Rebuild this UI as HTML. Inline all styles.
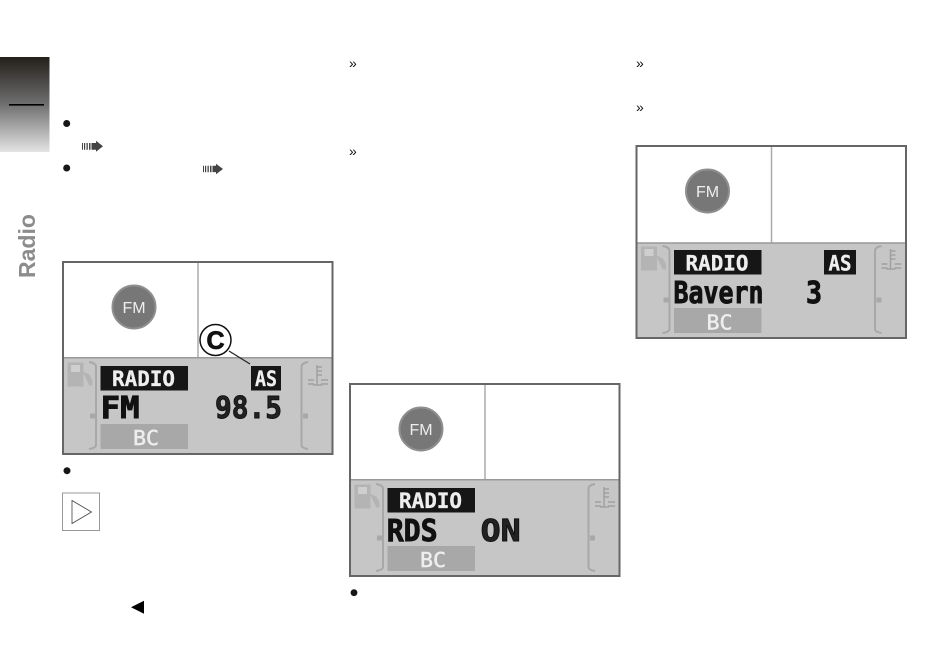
<!DOCTYPE html>
<html><head><meta charset="utf-8"><style>
html,body{margin:0;padding:0;background:#fff}
svg{display:block;filter:blur(.35px)}
text{font-family:"Liberation Sans",sans-serif}
.m{font-family:"DejaVu Sans Mono",monospace;font-weight:bold}
.k{stroke:#111;stroke-width:.9}
.w{stroke:#eee;stroke-width:.3}
.b{font-family:"DejaVu Sans Mono",monospace;font-weight:normal;stroke:#eee;stroke-width:.5}
</style></head><body>
<svg width="950" height="669" viewBox="0 0 950 669" xmlns="http://www.w3.org/2000/svg">
<defs>
<linearGradient id="g" x1="0" y1="0" x2="0" y2="1"><stop offset="0" stop-color="#231f1b"/><stop offset=".5" stop-color="#707070"/><stop offset="1" stop-color="#e4e4e4"/></linearGradient>
<g id="base">
<rect x="1" y="1" width="269.500" height="192" fill="#fff" stroke="#666" stroke-width="2"/>
<rect x="2" y="97" width="267.500" height="95" fill="#c6c6c6"/>
<line x1="2" y1="96.700" x2="269.500" y2="96.700" stroke="#999" stroke-width="1.500"/>
<line x1="136" y1="2" x2="136" y2="96" stroke="#aaa" stroke-width="1.500"/>
<circle cx="72" cy="46" r="22" fill="#777"/>
<circle cx="72" cy="46" r="21.500" fill="none" stroke="#8f8f8f" stroke-width="2"/>
<path d="M6 102h15v23H6zM21 111l6 3 3 5v5h-3" fill="#b4b4b4" stroke="#b4b4b4" stroke-width="1"/>
<rect x="9" y="104" width="9" height="7" fill="#cfcfcf"/>
<path d="M27 101q7 1 7 5v78q0 3-7 4" fill="none" stroke="#a8a8a8" stroke-width="2"/>
<rect x="28" y="152.500" width="5" height="5" fill="#a8a8a8"/>
<path d="M246 101q-6.500 1-6.500 5v78q0 3 6.500 4" fill="none" stroke="#a8a8a8" stroke-width="2"/>
<rect x="241" y="152.500" width="5" height="5" fill="#a8a8a8"/>
<path d="M255 104v20M255 106h5M255 110h5M255 114h5M246 119h6M246 123h6M259 119h7M259 123h7M251 124h9" stroke="#a0a0a0" stroke-width="1.500" fill="none"/>
<rect x="38.500" y="105" width="87.500" height="24.500" fill="#161616"/>
<rect x="38.500" y="163" width="87.500" height="25" fill="#a8a8a8"/>
</g>
</defs>

<rect x="0" y="57" width="49.500" height="95" fill="url(#g)"/>
<rect x="9" y="104" width="35" height="1.600" fill="#000"/>
<text transform="translate(35,278) rotate(-90)" font-size="23" font-weight="bold" fill="#8c8c8c">Radio</text>

<circle cx="66.700" cy="123.500" r="3.500" fill="#161616"/>
<circle cx="66.700" cy="168" r="3.500" fill="#161616"/>
<circle cx="67" cy="470.700" r="3.500" fill="#161616"/>
<circle cx="354" cy="592.700" r="3.400" fill="#161616"/>

<g fill="#444">
<path d="M82 143h1v6.700h-1zM84 143h1.200v6.700H84zM86.500 143h1.300v6.700h-1.300zM89 143h1.500v6.700H89zM91.500 143h4.500v-2.200l7 5.500-7 5.500v-2.100h-4.500z"/>
<path d="M203 165.800h1v6.500h-1zM205 165.800h1.200v6.500H205zM207.500 165.800h1.300v6.500h-1.300zM210 165.800h1.500v6.500H210zM212.500 165.800h3.500v-2l7 5.200-7 5.200v-2.100h-3.500z"/>
</g>

<text x="349" y="68" font-size="14" fill="#111">»</text>
<text x="349" y="156" font-size="14" fill="#111">»</text>
<text x="636" y="68" font-size="14" fill="#111">»</text>
<text x="636" y="112" font-size="14" fill="#111">»</text>

<rect x="62.500" y="493" width="37" height="37.500" fill="#fff" stroke="#999"/>
<path d="M72 500.500v23l19.500-11.500z" fill="#fff" stroke="#444" stroke-width=".8"/>
<path d="M131 607.300l13-6.500v13z" fill="#000"/>

<!-- Panel 1 -->
<g transform="translate(62,261)">
<use href="#base"/>
<rect x="189" y="105" width="30" height="24.500" fill="#161616"/>
<text x="72" y="52" text-anchor="middle" font-size="16" fill="#eee">FM</text>
<text class="m w" x="50" y="125" font-size="21" fill="#eee" textLength="63" lengthAdjust="spacingAndGlyphs">RADIO</text>
<text class="m w" x="193" y="125" font-size="21" fill="#eee" textLength="22" lengthAdjust="spacingAndGlyphs">AS</text>
<text class="m k" x="38.700" y="157" font-size="30" fill="#111" textLength="39" lengthAdjust="spacingAndGlyphs">FM</text>
<text class="m k" x="153" y="157" font-size="30" fill="#222" textLength="67" lengthAdjust="spacingAndGlyphs">98.5</text>
<text class="b" x="71" y="184" font-size="20.500" fill="#eee" textLength="26" lengthAdjust="spacingAndGlyphs">BC</text>
</g>
<circle cx="215.500" cy="340" r="15.500" fill="#fff" stroke="#111" stroke-width="1.500"/>
<text x="215.500" y="349" text-anchor="middle" font-size="25" font-weight="bold" fill="#111" stroke="#111" stroke-width=".8">C</text>
<line x1="229" y1="351" x2="250" y2="364" stroke="#222" stroke-width="1.200"/>

<!-- Panel 2 -->
<g transform="translate(349,383)">
<use href="#base"/>
<text x="72" y="52" text-anchor="middle" font-size="16" fill="#eee">FM</text>
<text class="m w" x="50" y="125" font-size="21" fill="#eee" textLength="63" lengthAdjust="spacingAndGlyphs">RADIO</text>
<text class="m k" x="37.700" y="158" font-size="30" fill="#111" textLength="51" lengthAdjust="spacingAndGlyphs">RDS</text>
<text class="m k" x="131.700" y="158" font-size="30" fill="#222" textLength="40" lengthAdjust="spacingAndGlyphs">ON</text>
<text class="b" x="71" y="184" font-size="20.500" fill="#eee" textLength="26" lengthAdjust="spacingAndGlyphs">BC</text>
</g>

<!-- Panel 3 -->
<g transform="translate(635.500,145)">
<use href="#base"/>
<rect x="2" y="95.500" width="267.500" height="2" fill="#fff"/>
<line x1="136" y1="95" x2="136" y2="98" stroke="#aaa" stroke-width="1.500"/>
<line x1="2" y1="98" x2="269.500" y2="98" stroke="#999" stroke-width="1.500"/>
<rect x="188.500" y="105" width="32" height="24.500" fill="#161616"/>
<text x="72" y="52" text-anchor="middle" font-size="16" fill="#eee">FM</text>
<text class="m w" x="50" y="125.500" font-size="21" fill="#eee" textLength="63" lengthAdjust="spacingAndGlyphs">RADIO</text>
<text class="m w" x="193" y="125.500" font-size="21" fill="#eee" textLength="23" lengthAdjust="spacingAndGlyphs">AS</text>
<text class="m k" x="38" y="158" font-size="30" fill="#111" textLength="90" lengthAdjust="spacingAndGlyphs">Bavern</text>
<text class="m k" x="170.500" y="158" font-size="30" fill="#111" textLength="16" lengthAdjust="spacingAndGlyphs">3</text>
<text class="b" x="71" y="184.500" font-size="20.500" fill="#eee" textLength="26" lengthAdjust="spacingAndGlyphs">BC</text>
</g>
</svg>
</body></html>
